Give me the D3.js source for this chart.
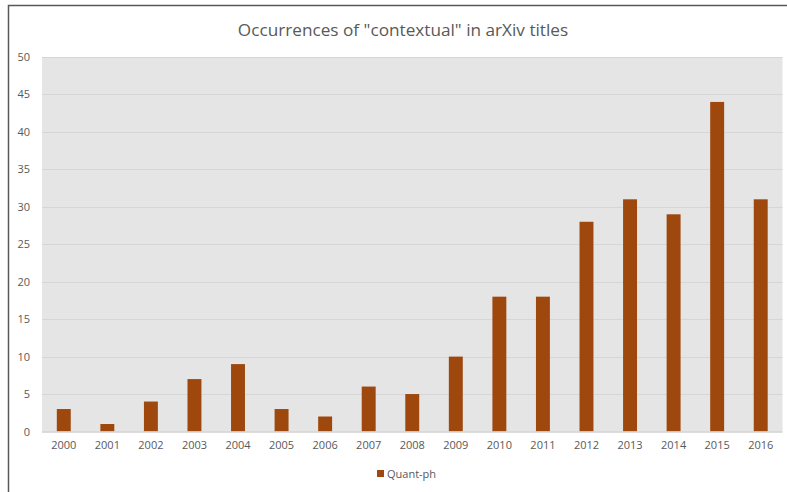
<!DOCTYPE html>
<html>
<head>
<meta charset="utf-8">
<script src="https://cdn.jsdelivr.net/npm/d3@7"></script>
<style>
  body { margin: 0; background: #fff; }
  svg { display: block; font-family: "Open Sans", "Noto Sans", sans-serif; }
</style>
</head>
<body>
<svg id="svg" width="787" height="492"></svg>
<script>
'use strict';

const years = ['2000', '2001', '2002', '2003', '2004', '2005', '2006', '2007', '2008',
  '2009', '2010', '2011', '2012', '2013', '2014', '2015', '2016'];
const counts = [3, 1, 4, 7, 9, 3, 2, 6, 5, 10, 18, 18, 28, 31, 29, 44, 31];
const yTicks = [0, 5, 10, 15, 20, 25, 30, 35, 40, 45, 50];
const seriesName = 'Quant-ph';
const BAR_COLOR = '#9E480E';

const svg = d3.select('#svg');
const plot = { left: 42, right: 782.5, top: 57, bottom: 431.5 };

// Chart frame (only left and top edges fall inside the picture)
svg.append('path')
  .attr('d', 'M8.5,492 L8.5,5.5 L787,5.5')
  .attr('fill', 'none')
  .attr('stroke', '#595959')
  .attr('stroke-width', 1.5);

svg.append('text')
  .attr('x', 403)
  .attr('y', 36)
  .attr('text-anchor', 'middle')
  .attr('font-size', 17.2)
  .attr('fill', '#595959')
  .text('Occurrences of "contextual" in arXiv titles');

const x = d3.scaleBand()
  .domain(years)
  .range([plot.left, plot.right])
  .paddingInner(0.68)
  .paddingOuter(0.34);

const y = d3.scaleLinear()
  .domain([0, 50])
  .range([plot.bottom, plot.top]);

// Plot background
svg.append('rect')
  .attr('x', plot.left)
  .attr('y', plot.top)
  .attr('width', plot.right - plot.left)
  .attr('height', plot.bottom - plot.top)
  .attr('fill', '#e5e5e5');

// Gridlines
svg.append('g')
  .selectAll('line')
  .data(yTicks.filter(d => d > 0))
  .join('line')
  .attr('x1', plot.left)
  .attr('x2', plot.right)
  .attr('y1', d => Math.round(y(d)) + 0.5)
  .attr('y2', d => Math.round(y(d)) + 0.5)
  .attr('stroke', '#d6d6d6')
  .attr('stroke-width', 1);

// Bars
svg.append('g')
  .selectAll('rect')
  .data(counts)
  .join('rect')
  .attr('x', (d, i) => x(years[i]))
  .attr('y', d => y(d))
  .attr('width', x.bandwidth())
  .attr('height', d => y(0) - y(d))
  .attr('fill', BAR_COLOR);

// Baseline
svg.append('line')
  .attr('x1', plot.left)
  .attr('x2', plot.right)
  .attr('y1', plot.bottom + 0.5)
  .attr('y2', plot.bottom + 0.5)
  .attr('stroke', '#d0d0d0')
  .attr('stroke-width', 1.5);

// Y axis labels
const yAxis = svg.append('g')
  .attr('transform', `translate(${plot.left - 12},0)`)
  .call(d3.axisLeft(y).tickValues(yTicks).tickSize(0).tickPadding(0));
yAxis.select('.domain').remove();
yAxis.selectAll('text')
  .attr('font-family', '"Open Sans", sans-serif')
  .attr('font-size', 11)
  .attr('fill', '#595959');

// X axis labels
const xAxis = svg.append('g')
  .attr('transform', `translate(0,${plot.bottom})`)
  .call(d3.axisBottom(x).tickSize(0).tickPadding(10));
xAxis.select('.domain').remove();
xAxis.selectAll('text')
  .attr('font-family', '"Open Sans", sans-serif')
  .attr('font-size', 11)
  .attr('fill', '#595959');

// Legend
const legend = svg.append('g').attr('transform', 'translate(377,470)');
legend.append('rect')
  .attr('x', 0)
  .attr('y', 0)
  .attr('width', 7)
  .attr('height', 7)
  .attr('fill', BAR_COLOR);
legend.append('text')
  .attr('x', 10)
  .attr('y', 7.5)
  .attr('font-size', 11)
  .attr('fill', '#595959')
  .text(seriesName);
</script>
</body>
</html>
